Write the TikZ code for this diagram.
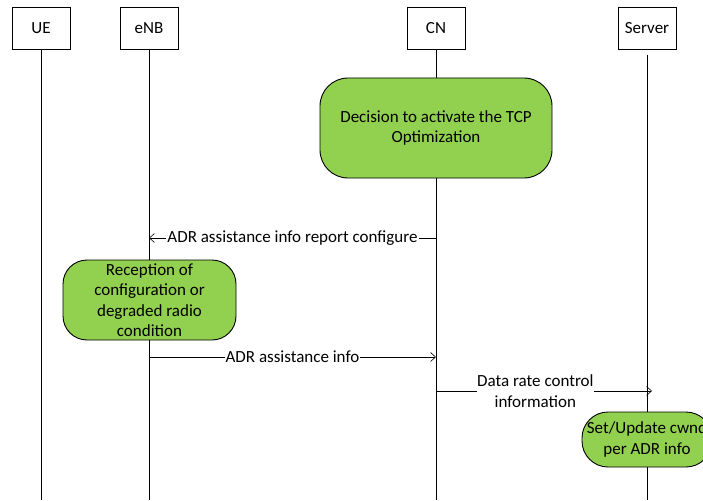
\documentclass[tikz,border=0pt]{standalone}
\usepackage{fontspec}
\setmainfont{Carlito}
\usetikzlibrary{arrows.meta}
\begin{document}
\begin{tikzpicture}[x=1pt,y=-1pt,
  every node/.style={font=\fontsize{17}{20.4}\selectfont},
  actor/.style={draw, fill=white, minimum width=58pt, minimum height=42pt, inner sep=0pt},
  life/.style={line width=0.6pt},
  msg/.style={line width=0.6pt, -{Straight Barb[length=5pt,width=9pt]}},
  lbl/.style={fill=white, inner sep=1pt, align=center},
  act/.style={draw, line width=0.9pt, fill={rgb,255:red,146;green,208;blue,80}, rounded corners=28pt, align=center, inner sep=0pt}]
\useasboundingbox (0,0) rectangle (703,500);
\begin{scope}
\clip (0,0) rectangle (703,500);
% actors
\node[actor] (ue) at (41,28.5) {UE};
\node[actor] (enb) at (149,28.5) {eNB};
\node[actor] (cn) at (436,28.5) {CN};
\node[actor] (srv) at (647,28.5) {Server};
\coordinate (ueE) at (41,500);
\coordinate (enbE) at (149,500);
\coordinate (cnE) at (436,500);
\coordinate (srvS) at (647,55);
\coordinate (srvE) at (647,500);
\draw[life] (ue.south) -- (ueE);
\draw[life] (enb.south) -- (enbE);
\draw[life] (cn.south) -- (cnE);
\draw[life] (srvS) -- (srvE);
% activity boxes
\node[act, minimum width=232pt, minimum height=100pt] (dec) at (436,128) {Decision to activate the TCP\\Optimization};
\node[act, minimum width=173pt, minimum height=80pt, rounded corners=24pt] (rec) at (149.5,300) {Reception of\\configuration or\\degraded radio\\condition};
\node[act, minimum width=130pt, minimum height=55pt, rounded corners=26pt] (set) at (647,439.5) {Set/Update cwnd\\per ADR info};
% messages
\coordinate (m1s) at (436,238);
\coordinate (m1e) at (149,238);
\draw[msg] (m1s) -- node[lbl] (l1) {ADR assistance info report configure} (m1e);
\coordinate (m2s) at (149,357);
\coordinate (m2e) at (436,357);
\draw[msg] (m2s) -- node[lbl, pos=0.5] (l2) {ADR assistance info} (m2e);
\coordinate (m3s) at (436,391);
\coordinate (m3e) at (652,391);
\draw[msg] (m3s) -- node[lbl, pos=0.46, inner sep=0pt] (l3) {Data rate control\\information} (m3e);
\end{scope}
\end{tikzpicture}
\end{document}
